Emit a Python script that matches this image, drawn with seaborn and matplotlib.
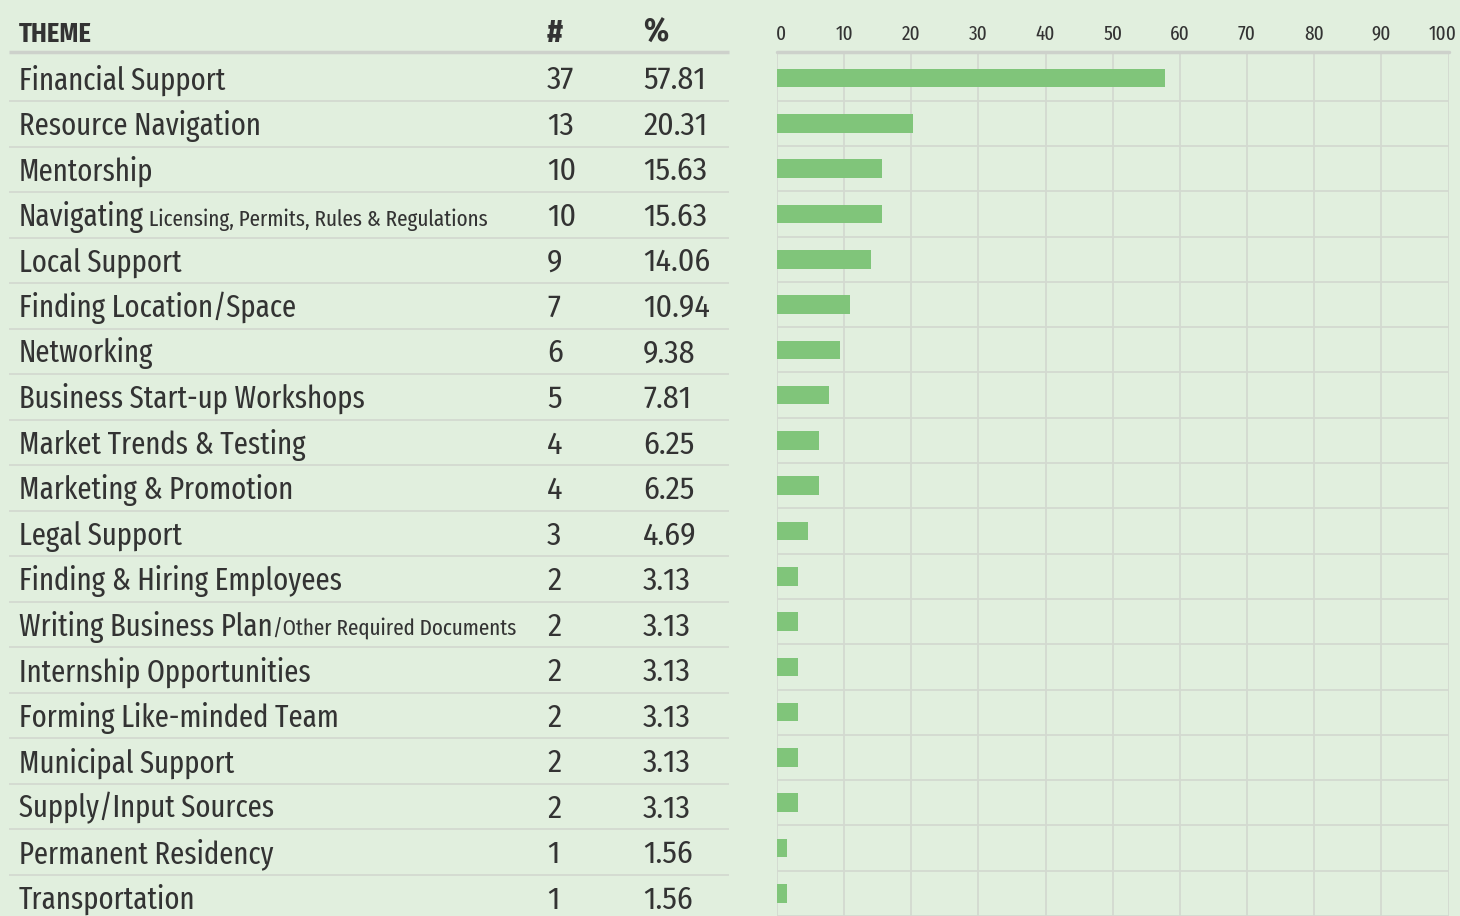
import matplotlib
matplotlib.use('Agg')
import matplotlib.pyplot as plt
from matplotlib.transforms import ScaledTranslation
import seaborn as sns
import pandas as pd

themes = ['Financial Support', 'Resource Navigation', 'Mentorship', 'Navigating',
          'Local Support', 'Finding Location/Space', 'Networking',
          'Business Start-up Workshops', 'Market Trends & Testing',
          'Marketing & Promotion', 'Legal Support', 'Finding & Hiring Employees',
          'Writing Business Plan', 'Internship Opportunities',
          'Forming Like-minded Team', 'Municipal Support', 'Supply/Input Sources',
          'Permanent Residency', 'Transportation']
# smaller trailing text on a couple of rows
extras = {'Navigating': ' Licensing, Permits, Rules & Regulations',
          'Writing Business Plan': '/Other Required Documents'}
counts = [37, 13, 10, 10, 9, 7, 6, 5, 4, 4, 3, 2, 2, 2, 2, 2, 2, 1, 1]
percents = [57.81, 20.31, 15.63, 15.63, 14.06, 10.94, 9.38, 7.81, 6.25, 6.25,
            4.69, 3.13, 3.13, 3.13, 3.13, 3.13, 3.13, 1.56, 1.56]
ticks = list(range(0, 101, 10))

bg = '#e1efde'
bar_col = '#80c57a'
grid_col = '#d3d9d0'
head_line = '#cdd1cb'
ink = '#333333'

sns.set_theme(style='white', rc={'figure.facecolor': bg, 'axes.facecolor': bg})
plt.rcParams['font.family'] = ['Fira Sans Condensed', 'DejaVu Sans']
narrow = ['Fira Sans Extra Condensed', 'DejaVu Sans']

df = pd.DataFrame({'theme': themes, 'pct': percents})

fig = plt.figure(figsize=(14.6, 9.16), dpi=100)
top = 1 - 52 / 916
ylim = (18.4, -0.576)
base = 0.243  # text baseline offset inside a row
row_fs = 22.5

# bar chart
ax = fig.add_axes([777 / 1460, 0, 671.5 / 1460, top])
sns.barplot(data=df, x='pct', y='theme', orient='h', color=bar_col,
            width=0.41, saturation=1, linewidth=0, ax=ax)
ax.set_xlim(0, 100)
ax.set_ylim(*ylim)
ax.set_xticks(ticks)
ax.xaxis.tick_top()
ax.tick_params(axis='x', length=0, pad=6, labelsize=15, labelcolor=ink)
labs = ax.get_xticklabels()
for lab in labs:
    lab.set_family(narrow)
# keep the end labels inside the plot edges
labs[0].set_transform(labs[0].get_transform() + ScaledTranslation(4 / 100, 0, fig.dpi_scale_trans))
labs[-1].set_transform(labs[-1].get_transform() + ScaledTranslation(-6 / 100, 0, fig.dpi_scale_trans))
ax.set_yticks([i + 0.5 for i in range(len(themes))])
ax.set_yticklabels([])
ax.tick_params(axis='y', length=0)
ax.set_xlabel('')
ax.set_ylabel('')
ax.grid(True, color=grid_col, lw=1.3)
ax.set_axisbelow(True)
for s in ax.spines.values():
    s.set_visible(False)
ax.axhline(ylim[1], color=head_line, lw=2.5, clip_on=False)

# table
tax = fig.add_axes([0, 0, 730 / 1460, top])
tax.set_xlim(0, 730)
tax.set_ylim(*ylim)
tax.axis('off')
tax.hlines([i + 0.5 for i in range(len(themes))], 9, 729, color=grid_col, lw=1.3)
tax.hlines(ylim[1], 9, 729, color=head_line, lw=2.5, clip_on=False)

hy = -0.802
tax.text(19, hy, 'THEME', fontsize=19, fontweight='bold', color=ink, va='baseline', clip_on=False)
tax.text(547, hy, '#', fontsize=23, fontweight='bold', color=ink, va='baseline', clip_on=False)
tax.text(643, hy, '%', fontsize=23, fontweight='bold', color=ink, va='baseline', clip_on=False)

fig.canvas.draw()
renderer = fig.canvas.get_renderer()
for i, (t, c, p) in enumerate(zip(themes, counts, percents)):
    txt = tax.text(19, i + base, t, fontsize=row_fs, family=narrow, color=ink, va='baseline')
    if t in extras:
        bb = txt.get_window_extent(renderer)
        x1 = tax.transData.inverted().transform((bb.x1, 0))[0]
        tax.text(x1, i + base, extras[t], fontsize=16.5, family=narrow, color=ink, va='baseline')
    tax.text(547, i + base, str(c), fontsize=23, color=ink, va='baseline')
    tax.text(643, i + base, f'{p:.2f}', fontsize=23, color=ink, va='baseline')

fig.savefig('out.png', dpi=100, facecolor=bg)
